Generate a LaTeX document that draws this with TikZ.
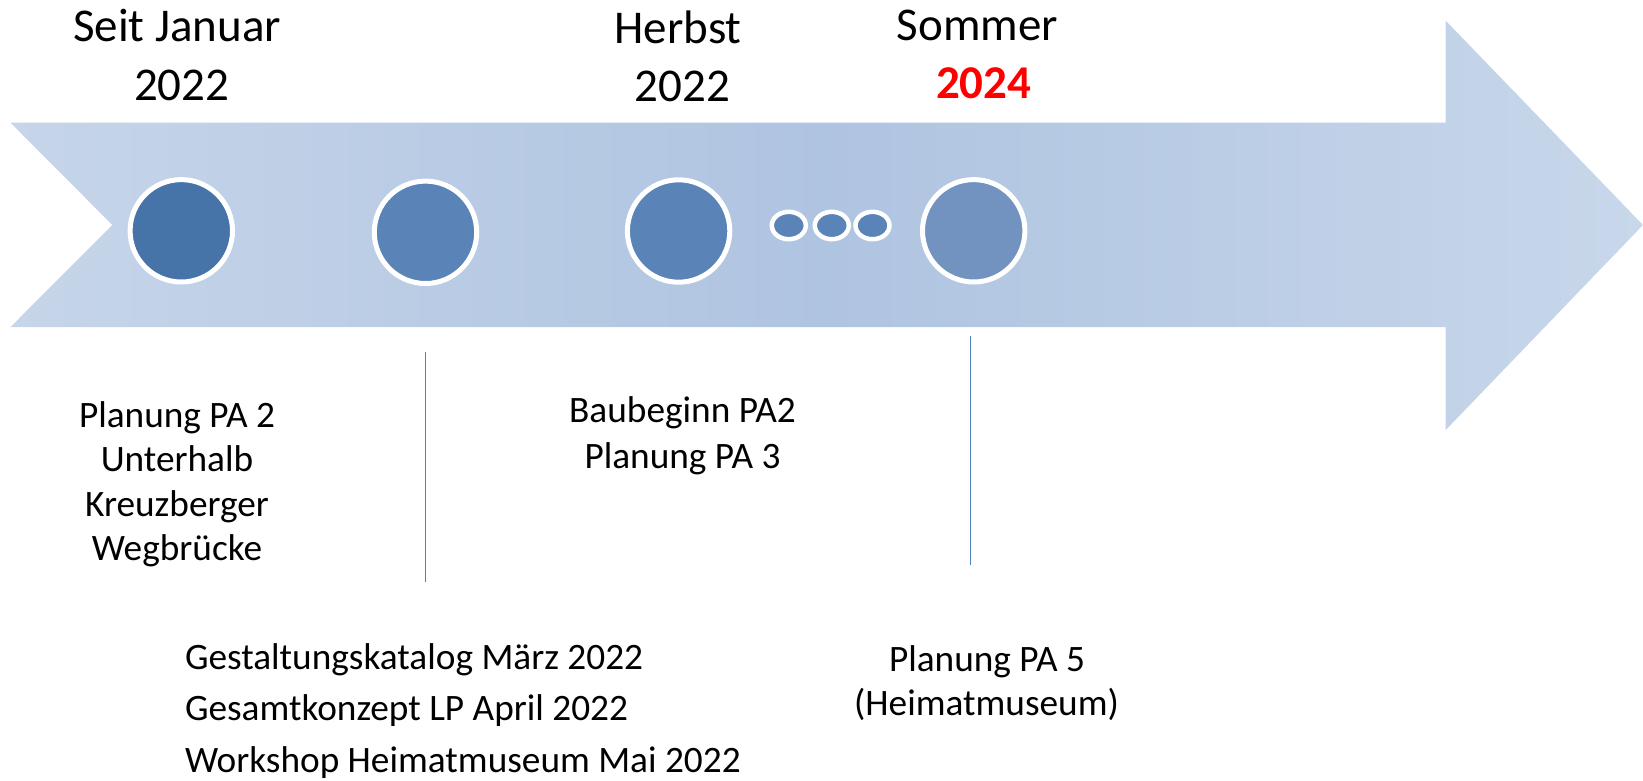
\documentclass[tikz,border=0pt]{standalone}
\usepackage{fontspec}
\setmainfont{Carlito}
\usetikzlibrary{shapes.geometric}
\definecolor{arrowL}{HTML}{C6D5E9}
\definecolor{arrowM}{HTML}{AFC4E1}
\definecolor{arrowR}{HTML}{C8D7EA}
\definecolor{dotA}{HTML}{4674A9}
\definecolor{dotB}{HTML}{5A83B8}
\definecolor{dotC}{HTML}{7293C0}
\definecolor{tick}{HTML}{4F7FBD}
\definecolor{hot}{HTML}{FF0000}
\tikzset{
  head/.style={anchor=base, inner sep=0pt, font=\fontsize{47}{58}\selectfont},
  body/.style={anchor=base, inner sep=0pt, font=\fontsize{37.3}{44}\selectfont},
  bodyl/.style={anchor=base west, inner sep=0pt, font=\fontsize{37.3}{44}\selectfont},
  bigdot/.style={circle, inner sep=0pt, minimum size=102.4pt, draw=white, line width=5pt},
  smalldot/.style={ellipse, inner sep=0pt, minimum width=34pt, minimum height=27.4pt, draw=white, line width=4.5pt, fill=dotB},
  tickline/.style={draw=tick, line width=1.6pt}
}
\begin{document}
\begin{tikzpicture}[x=1pt,y=-1pt]
\useasboundingbox (0,0) rectangle (1643,780);
% arrow
\shade[left color=arrowL, right color=arrowR, middle color=arrowM]
  (10.5,122.7) -- (1445.7,122.7) -- (1445.7,20.7) -- (1643,225) -- (1445.7,430)
  -- (1445.7,327) -- (10.5,327) -- (112.4,225) -- cycle;
% milestone dots
\node[bigdot, fill=dotA] (c1) at (181.3,230.8) {};
\node[bigdot, fill=dotB] (c2) at (425.5,232.3) {};
\node[bigdot, fill=dotB] (c3) at (678.6,231) {};
\node[smalldot] (s1) at (788.8,225.5) {};
\node[smalldot] (s2) at (831.8,225.5) {};
\node[smalldot] (s3) at (872.5,225.5) {};
\node[bigdot, fill=dotC] (c4) at (973.7,230.8) {};
% header labels
\node[head] (hj1) at (177,41.7) {Seit Januar};
\node[head] (hj2) at (181.7,100) {2022};
\node[head] (hh1) at (678,43.3) {Herbst};
\node[head] (hh2) at (682.6,101) {2022};
\node[head] (hs1) at (977.5,40.7) {Sommer};
\node[head, text=hot, font=\fontsize{47}{58}\selectfont\bfseries] (hs2) at (983.8,98) {2024};
% tick lines
\coordinate (t1a) at (425.4,352.3);
\coordinate (t1b) at (425.4,581.7);
\coordinate (t2a) at (970.5,336);
\coordinate (t2b) at (970.5,565);
\draw[tickline] (t1a) -- (t1b);
\draw[tickline] (t2a) -- (t2b);
% body texts
\node[body] (b1) at (177,427.3) {Planung PA 2};
\node[body] (b2) at (177,471.7) {Unterhalb};
\node[body] (b3) at (177,516) {Kreuzberger};
\node[body] (b4) at (177,560.7) {Wegbrücke};
\node[body] (m1) at (682.5,422.7) {Baubeginn PA2};
\node[body] (m2) at (682.5,468.3) {Planung PA 3};
\node[bodyl] (g1) at (184.8,669) {Gestaltungskatalog März 2022};
\node[bodyl] (g2) at (184.8,720.5) {Gesamtkonzept LP April 2022};
\node[bodyl] (g3) at (184.8,772) {Workshop Heimatmuseum Mai 2022};
\node[body] (p1) at (987,671.7) {Planung PA 5};
\node[body] (p2) at (986.5,715.5) {(Heimatmuseum)};
\end{tikzpicture}
\end{document}
